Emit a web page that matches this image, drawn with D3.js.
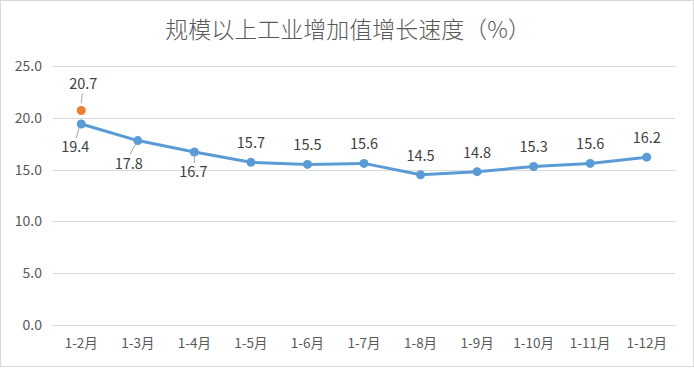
<!DOCTYPE html>
<html>
<head>
<meta charset="utf-8">
<script src="https://cdn.jsdelivr.net/npm/d3@7"></script>
<style>
  body { margin: 0; background: #fff; }
  text { font-family: "Noto Sans CJK SC", "Open Sans", sans-serif; }
</style>
</head>
<body>
<div id="chart"></div>
<script>
// chart values
var months = ["1-2月", "1-3月", "1-4月", "1-5月", "1-6月", "1-7月", "1-8月", "1-9月", "1-10月", "1-11月", "1-12月"];
var growth = [19.4, 17.8, 16.7, 15.7, 15.5, 15.6, 14.5, 14.8, 15.3, 15.6, 16.2];
var extraPoint = { month: "1-2月", value: 20.7 };
var yTicks = [0, 5, 10, 15, 20, 25];
var belowLabels = ["1-2月", "1-3月", "1-4月"];

var width = 694, height = 368;
var margin = { top: 66, right: 19, bottom: 43, left: 53 };

var svg = d3.select("#chart").append("svg")
    .attr("width", width)
    .attr("height", height);

svg.append("rect")
    .attr("x", 0.5).attr("y", 0.5)
    .attr("width", width - 1).attr("height", height - 2)
    .attr("fill", "#fff")
    .attr("stroke", "#d9d9d9");

svg.append("text")
    .attr("x", width / 2 + 1)
    .attr("y", 38)
    .attr("text-anchor", "middle")
    .style("font-size", "23px")
    .style("font-weight", "300")
    .style("fill", "#595959")
    .text("规模以上工业增加值增长速度（%）");

var x = d3.scaleBand()
    .domain(months)
    .range([margin.left, width - margin.right]);

var y = d3.scaleLinear()
    .domain([0, 25])
    .range([height - margin.bottom, margin.top]);

// grid
svg.append("g")
  .selectAll("line")
  .data(yTicks)
  .enter().append("line")
    .attr("x1", margin.left)
    .attr("x2", width - margin.right)
    .attr("y1", function(d) { return Math.round(y(d)) + 0.5; })
    .attr("y2", function(d) { return Math.round(y(d)) + 0.5; })
    .attr("stroke", "#d9d9d9")
    .attr("stroke-width", 1);

svg.append("g")
  .selectAll("text")
  .data(yTicks)
  .enter().append("text")
    .attr("x", 42)
    .attr("y", function(d) { return y(d); })
    .attr("dy", "0.35em")
    .attr("text-anchor", "end")
    .style("font-size", "14px")
    .style("fill", "#595959")
    .text(function(d) { return d3.format(".1f")(d); });

svg.append("g")
  .selectAll("text")
  .data(months)
  .enter().append("text")
    .attr("x", function(d) { return x(d) + x.bandwidth() / 2; })
    .attr("y", height - margin.bottom + 23)
    .attr("text-anchor", "middle")
    .style("font-size", "13.5px")
    .style("fill", "#595959")
    .text(function(d) { return d; });

var cx = function(m) { return x(m) + x.bandwidth() / 2; };

var line = d3.line()
    .x(function(d, i) { return cx(months[i]); })
    .y(function(d) { return y(d); });

svg.append("path")
    .datum(growth)
    .attr("d", line)
    .attr("fill", "none")
    .attr("stroke", "#5b9bd5")
    .attr("stroke-width", 3)
    .attr("stroke-linejoin", "round");

svg.append("g")
  .selectAll("circle")
  .data(growth)
  .enter().append("circle")
    .attr("cx", function(d, i) { return cx(months[i]); })
    .attr("cy", function(d) { return y(d); })
    .attr("r", 4.5)
    .attr("fill", "#5b9bd5");

svg.append("circle")
    .attr("cx", cx(extraPoint.month))
    .attr("cy", y(extraPoint.value))
    .attr("r", 4.5)
    .attr("fill", "#ed7d31");

// data labels
var labels = svg.append("g");
growth.forEach(function(v, i) {
  var m = months[i], px = cx(m), py = y(v);
  var below = belowLabels.indexOf(m) >= 0;
  var lx = px, ly = py - 14;
  if (below) {
    if (i == 0) { lx = px - 6; ly = py + 28; }
    else if (i == 1) { lx = px - 9; ly = py + 28; }
    else { lx = px - 1; ly = py + 25; }
    labels.append("line")
      .attr("x1", px - (i == 2 ? 0 : 2)).attr("y1", py + 3)
      .attr("x2", lx + 1).attr("y2", ly - 14)
      .attr("stroke", "#a6a6a6").attr("stroke-width", 1);
  }
  labels.append("text")
    .attr("x", lx)
    .attr("y", below ? ly : py - 14)
    .attr("text-anchor", "middle")
    .style("font-size", "14.5px")
    .style("fill", "#404040")
    .text(d3.format(".1f")(v));
});

var ox = cx(extraPoint.month), oy = y(extraPoint.value);
labels.append("line")
  .attr("x1", ox + 1).attr("y1", oy - 17)
  .attr("x2", ox).attr("y2", oy - 7)
  .attr("stroke", "#a6a6a6").attr("stroke-width", 1);
labels.append("text")
  .attr("x", ox + 2)
  .attr("y", oy - 22)
  .attr("text-anchor", "middle")
  .style("font-size", "14.5px")
  .style("fill", "#404040")
  .text(d3.format(".1f")(extraPoint.value));
</script>
</body>
</html>
